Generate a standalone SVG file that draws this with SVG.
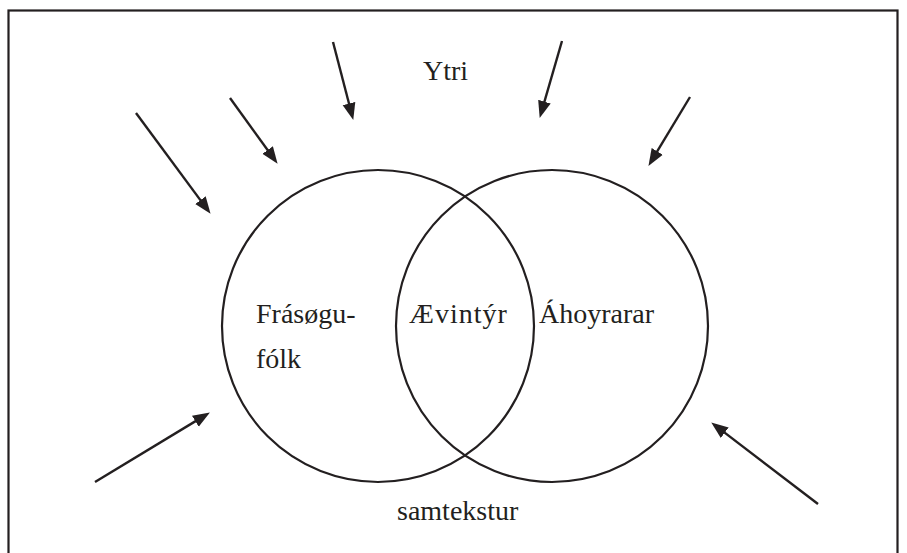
<svg xmlns="http://www.w3.org/2000/svg" width="907" height="553" viewBox="0 0 907 553">
<style>
.frame{fill:none;stroke:#231f20;stroke-width:2.2}
.circ{fill:none;stroke:#231f20;stroke-width:2.2}
.arr{stroke:#231f20;stroke-width:2.4;fill:none;marker-end:url(#ah)}
.lbl{font-family:"Liberation Serif","DejaVu Serif",serif;font-size:28px;fill:#231f20}
</style>
<defs>
<marker id="ah" markerUnits="userSpaceOnUse" markerWidth="20" markerHeight="16" viewBox="0 -8 20 16" refX="8" refY="0" orient="auto">
<path d="M0,-6.5 L17,0 L0,6.5 z" fill="#231f20"/>
</marker>
</defs>
<rect class="frame" x="8.5" y="10.5" width="889" height="560"/>
<g id="node-frasogufolk">
<circle class="circ" cx="378" cy="326" r="156"/>
<text class="lbl" x="256" y="323">Frásøgu-</text>
<text class="lbl" x="256" y="368">fólk</text>
</g>
<g id="node-ahoyrarar">
<circle class="circ" cx="552" cy="326" r="156"/>
<text class="lbl" x="539" y="323">Áhoyrarar</text>
</g>
<g id="node-aevintyr">
<text class="lbl" x="409" y="323" letter-spacing="1">Ævintýr</text>
</g>
<g id="node-ytri">
<text class="lbl" x="423" y="80">Ytri</text>
</g>
<g id="node-samtekstur">
<text class="lbl" x="397" y="520">samtekstur</text>
</g>
<g id="connectors">
<line class="arr" x1="136" y1="113" x2="205.2" y2="206.6"/>
<line class="arr" x1="230" y1="98" x2="272.3" y2="156.5"/>
<line class="arr" x1="333" y1="42" x2="351" y2="111.3"/>
<line class="arr" x1="562" y1="41" x2="542.2" y2="109.3"/>
<line class="arr" x1="690" y1="97" x2="653.1" y2="158.2"/>
<line class="arr" x1="95" y1="482" x2="202.2" y2="417.1"/>
<line class="arr" x1="818" y1="504" x2="718.4" y2="427.9"/>
</g>
</svg>
